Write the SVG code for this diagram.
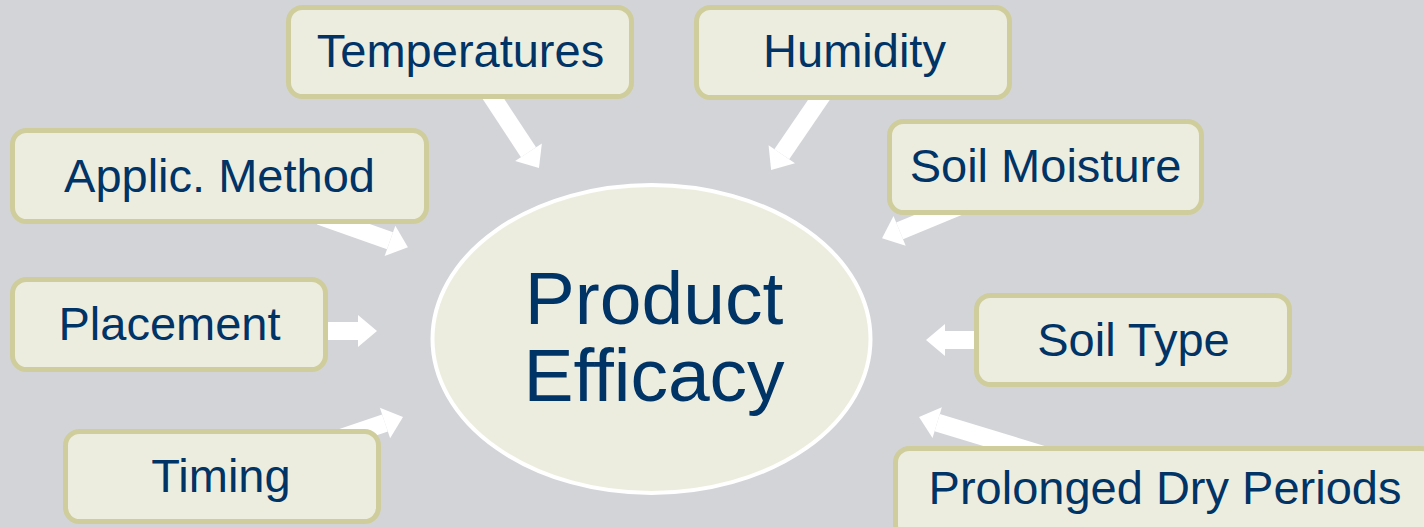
<svg xmlns="http://www.w3.org/2000/svg" width="1424" height="527" viewBox="0 0 1424 527">
<style>
.box{fill:#ededdf;stroke:#cfcd9b;stroke-width:5}
.lbl{font-family:"Liberation Sans",Arial,sans-serif;font-size:47px;fill:#003366;text-anchor:middle}
.big{font-family:"Liberation Sans",Arial,sans-serif;font-size:75px;fill:#003366;text-anchor:middle}
.arrow{stroke:#ffffff;stroke-width:18;fill:none;marker-end:url(#head)}
</style>
<defs>
<marker id="head" markerUnits="userSpaceOnUse" markerWidth="20" markerHeight="32" refX="0" refY="16" orient="auto" overflow="visible">
<path d="M0,0 L19,16 L0,32 Z" fill="#ffffff"/>
</marker>
</defs>
<rect width="1424" height="527" fill="#d3d4d8"/>
<g id="connectors">
<line class="arrow" x1="481" y1="80" x2="528.5" y2="152.2"/>
<line class="arrow" x1="827" y1="88" x2="781.8" y2="154.3"/>
<line class="arrow" x1="960" y1="206" x2="899.6" y2="230.9"/>
<line class="arrow" x1="990" y1="340" x2="945" y2="340"/>
<line class="arrow" x1="1060" y1="460" x2="937.2" y2="422.6"/>
<line class="arrow" x1="320" y1="445" x2="385" y2="423"/>
<line class="arrow" x1="320" y1="331" x2="358" y2="331"/>
<line class="arrow" x1="320" y1="216" x2="390" y2="240.8"/>
</g>
<g id="center">
<ellipse cx="651.5" cy="339" rx="219" ry="154" fill="#ededdf" stroke="#ffffff" stroke-width="4"/>
<text class="big" x="654" y="324">Product</text>
<text class="big" x="654" y="401">Efficacy</text>
</g>
<g id="temperatures">
<rect class="box" x="288.5" y="7.5" width="343" height="89" rx="14"/>
<text class="lbl" x="460.5" y="67">Temperatures</text>
</g>
<g id="humidity">
<rect class="box" x="696.5" y="7.5" width="313" height="90" rx="14"/>
<text class="lbl" x="854.5" y="67">Humidity</text>
</g>
<g id="applic-method">
<rect class="box" x="12.5" y="130.5" width="414" height="91" rx="14"/>
<text class="lbl" x="219.5" y="192">Applic. Method</text>
</g>
<g id="soil-moisture">
<rect class="box" x="889.5" y="121.5" width="312" height="91" rx="14"/>
<text class="lbl" x="1045.5" y="182">Soil Moisture</text>
</g>
<g id="placement">
<rect class="box" x="12.5" y="279.5" width="313" height="90" rx="14"/>
<text class="lbl" x="169.5" y="340">Placement</text>
</g>
<g id="soil-type">
<rect class="box" x="976.5" y="295.5" width="313" height="89" rx="14"/>
<text class="lbl" x="1133.5" y="356">Soil Type</text>
</g>
<g id="timing">
<rect class="box" x="65.5" y="431.5" width="313" height="90" rx="14"/>
<text class="lbl" x="221" y="492">Timing</text>
</g>
<g id="prolonged-dry-periods">
<rect class="box" x="895.5" y="448.5" width="540" height="90" rx="14"/>
<text class="lbl" x="1165" y="504">Prolonged Dry Periods</text>
</g>
</svg>
